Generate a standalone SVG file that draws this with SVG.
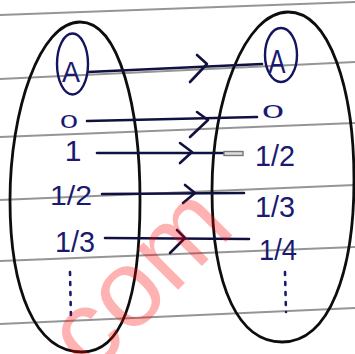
<svg xmlns="http://www.w3.org/2000/svg" width="355" height="354" viewBox="0 0 355 354">
<style>
.rule{stroke:#7a7a7a;stroke-width:2;fill:none;stroke-opacity:0.8}
.set{fill:none;stroke:#0d0d0d;stroke-width:2.8;stroke-linejoin:round}
.ring{fill:none;stroke:#14145e;stroke-width:2.4}
.lbl{font-family:"Liberation Sans",Arial,sans-serif;fill:#1a1a70;text-anchor:middle}
.con{fill:none;stroke:#111140;stroke-width:2.6;stroke-linecap:round;stroke-linejoin:round}
.dots{fill:none;stroke:#1a1a70;stroke-width:2.6;stroke-linecap:round;stroke-dasharray:3 7}
</style>
<rect width="355" height="354" fill="#ffffff"/>
<g id="paper-rules">
<path class="rule" d="M0 15 L355 2"/>
<path class="rule" d="M0 79 L355 62"/>
<path class="rule" d="M0 137 L355 123"/>
<path class="rule" d="M0 200 L355 185"/>
<path class="rule" d="M0 261 L355 247"/>
<path class="rule" d="M0 324 L355 308"/>
</g>
<g id="set-left">
<path class="set" d="M80 22 C40 22 10 110 10 200 C10 290 35 352 82 352 C125 352 140 290 140 200 C140 110 120 22 80 22 Z"/>
</g>
<g id="set-right">
<path class="set" d="M288 12 C245 12 212 100 212 190 C212 290 240 342 282 342 C330 342 354 270 354 180 C354 90 330 12 288 12 Z"/>
</g>
<g id="connectors">
<path class="con" d="M88 72 L262 64"/>
<path class="con" d="M197 55 L207 64 L190 82"/>
<path class="con" d="M87 121 L257 117"/>
<path class="con" d="M197 112 L208 120 L190 137"/>
<path class="con" d="M97 153 L223 153"/>
<path class="con" d="M180 143 L192 152 L180 163"/>
<rect x="224" y="151.5" width="19" height="4" fill="#dcdcdc" stroke="#777" stroke-width="1.4"/>
<path class="con" d="M102 194 L244 193"/>
<path class="con" d="M185 185 L195 193 L183 203"/>
<path class="con" d="M105 238 L249 239"/>
<path class="con" d="M177 230 L185 238 L170 253"/>
</g>
<g id="left-A"><ellipse class="ring" cx="72.5" cy="64" rx="15.5" ry="30.5"/><text class="lbl" x="71" y="82" font-size="30" textLength="18" lengthAdjust="spacingAndGlyphs">A</text></g>
<g id="left-0"><text class="lbl" x="69" y="128" font-size="18" textLength="18" lengthAdjust="spacingAndGlyphs">0</text></g>
<g id="left-1"><text class="lbl" x="73" y="161" font-size="30">1</text></g>
<g id="left-half"><text class="lbl" x="71" y="205" font-size="28" textLength="42" lengthAdjust="spacingAndGlyphs">1/2</text></g>
<g id="left-third"><text class="lbl" x="75" y="252" font-size="30" textLength="40" lengthAdjust="spacingAndGlyphs">1/3</text></g>
<g id="left-more"><path class="dots" d="M70 272 L71 321"/></g>
<g id="right-A"><ellipse class="ring" cx="281" cy="55" rx="16" ry="27"/><text class="lbl" x="277" y="73" font-size="34" textLength="17" lengthAdjust="spacingAndGlyphs">A</text></g>
<g id="right-0"><text class="lbl" x="273" y="118" font-size="18" textLength="22" lengthAdjust="spacingAndGlyphs">0</text></g>
<g id="right-half"><text class="lbl" x="275" y="166" font-size="30" textLength="40" lengthAdjust="spacingAndGlyphs">1/2</text></g>
<g id="right-third"><text class="lbl" x="275" y="217" font-size="30" textLength="40" lengthAdjust="spacingAndGlyphs">1/3</text></g>
<g id="right-fourth"><text class="lbl" x="278" y="260" font-size="30" textLength="38" lengthAdjust="spacingAndGlyphs">1/4</text></g>
<g id="right-more"><path class="dots" d="M285 272 L286 312"/></g>
<text x="90.5" y="377.5" font-family="Liberation Sans,Arial,sans-serif" font-size="110" fill="#ff0000" fill-opacity="0.3" transform="rotate(-45 90.5 377.5)">com</text>
</svg>
